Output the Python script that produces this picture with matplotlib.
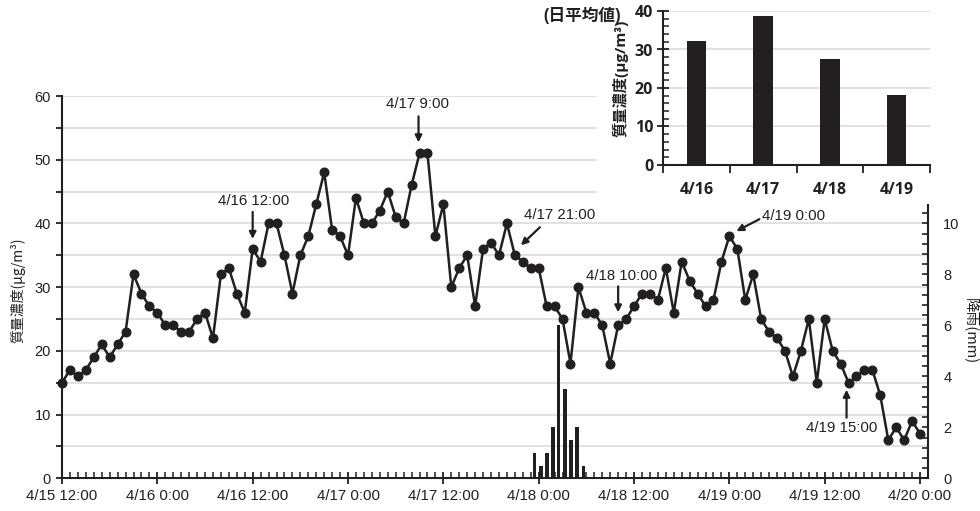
import matplotlib
matplotlib.use('Agg')
import matplotlib.pyplot as plt
import matplotlib.ticker as mticker
import matplotlib.transforms as mtransforms
from matplotlib.patches import Rectangle
import numpy as np

# ---------------- data ----------------
# Hourly mass concentration (μg/m³) from 4/15 12:00 to 4/20 0:00
conc = [15, 17, 16, 17, 19, 21, 19, 21, 23, 32, 29, 27, 26,
        24, 24, 23, 23, 25, 26, 22, 32, 33, 29, 26, 36,
        34, 40, 40, 35, 29, 35, 38, 43, 48, 39, 38, 35,
        44, 40, 40, 42, 45, 41, 40, 46, 51, 51, 38, 43,
        30, 33, 35, 27, 36, 37, 35, 40, 35, 34, 33, 33,
        27, 27, 25, 18, 30, 26, 26, 24, 18, 24, 25, 27,
        29, 29, 28, 33, 26, 34, 31, 29, 27, 28, 34, 38,
        36, 28, 32, 25, 23, 22, 20, 16, 20, 25, 15, 25,
        20, 18, 15, 16, 17, 17, 13, 6, 8, 6, 9, 7]
hours = list(range(len(conc)))  # hours since 4/15 12:00

# Rainfall (mm) — times in hours since 4/15 12:00
rain_hours = [59.5, 60.3, 61.05, 61.8, 62.5, 63.3, 64.05, 64.8, 65.6]
rain_mm = [1.0, 0.5, 1.0, 2.0, 6.0, 3.5, 1.5, 2.0, 0.5]

xtick_hours = [0, 12, 24, 36, 48, 60, 72, 84, 96, 108]
xtick_labels = ["4/15 12:00", "4/16 0:00", "4/16 12:00", "4/17 0:00", "4/17 12:00",
                "4/18 0:00", "4/18 12:00", "4/19 0:00", "4/19 12:00", "4/20 0:00"]

# Daily means (inset)
daily_days = ["4/16", "4/17", "4/18", "4/19"]
daily_mean = [32.3, 38.7, 27.5, 18.2]

# Annotated times (label, hour index)
annot_labels = ["4/16 12:00", "4/17 9:00", "4/17 21:00", "4/18 10:00", "4/19 0:00", "4/19 15:00"]
annot_hours = [24, 45, 57, 70, 84, 99]

# ---------------- style ----------------
INK = '#231f20'
GRID = '#d9d9d9'
plt.rcParams['font.family'] = ['Liberation Sans', 'Noto Sans CJK JP', 'DejaVu Sans']
CJK = ['Noto Sans CJK JP', 'DejaVu Sans']
BOLD = ['Open Sans', 'Noto Sans CJK JP', 'DejaVu Sans']

W, H = 980, 511
fig = plt.figure(figsize=(W / 100, H / 100), dpi=100)

ax = fig.add_axes([62 / W, 1 - 478.3 / H, 866 / W, 382.3 / H])
ax.plot(hours, conc, color=INK, lw=1.8, marker='o', ms=6.2, zorder=3, clip_on=False)
ax.set_xlim(0, 109)
ax.set_ylim(0, 60)
ax.set_xticks(xtick_hours)
ax.set_xticklabels(xtick_labels)
ax.xaxis.set_minor_locator(mticker.MultipleLocator(1))
ax.yaxis.set_major_locator(mticker.MultipleLocator(10))
ax.yaxis.set_minor_locator(mticker.MultipleLocator(5))
ax.grid(axis='y', which='both', color=GRID, lw=1.1, zorder=0)
ax.set_axisbelow(True)
for s in ['top', 'right']:
    ax.spines[s].set_visible(False)
for s in ['left', 'bottom']:
    ax.spines[s].set_linewidth(1.5)
    ax.spines[s].set_color(INK)
ax.tick_params(axis='y', which='both', direction='out', length=4, width=1.3, color=INK,
               labelsize=10.5, pad=4, labelcolor=INK)
ax.tick_params(axis='x', which='major', direction='inout', length=9, width=1.3, color=INK,
               labelsize=10.8, pad=3, labelcolor=INK)
ax.tick_params(axis='x', which='minor', direction='in', length=4, width=1.1, color=INK)

# rainfall on secondary axis
ax2 = ax.twinx()
ax2.bar(rain_hours, rain_mm, width=0.42, color=INK, zorder=2)
ax2.set_ylim(0, 15)
ax2.set_yticks(np.arange(0, 11, 2))
ax2.yaxis.set_minor_locator(mticker.FixedLocator(np.arange(0, 10.85, 0.4)))
for s in ['top', 'left', 'bottom']:
    ax2.spines[s].set_visible(False)
ax2.spines['right'].set_linewidth(1.5)
ax2.spines['right'].set_color(INK)
ax2.tick_params(axis='y', which='both', direction='in', length=4, width=1.2, color=INK,
                labelsize=10.5, pad=11, labelcolor=INK)

# axis labels
fig.text(18 / W, 1 - 290 / H, '質量濃度(μg/m³)', rotation=90, ha='center', va='center',
         fontsize=10, family=CJK, color=INK)
fig.text(970 / W, 1 - 331 / H, '降雨(mm)', rotation=-90, ha='center', va='center',
         fontsize=10.5, family=CJK, color=INK)

# annotations: (text offset px, arrow start px, arrow tip px, text ha)
annot_layout = [
    ((1, 48), (0, 37), (0, 10), 'center'),
    ((-2, 49), (-1, 37), (-1, 11), 'center'),
    ((45, 40), (25, 28), (6, 10), 'center'),
    ((3, 49), (0, 39), (0, 13), 'center'),
    ((33, 20), (30, 17), (7, 5), 'left'),
    ((-7, -45), (-2, -35), (-2, -7), 'center'),
]


def off(dx, dy):
    return ax.transData + mtransforms.ScaledTranslation(dx / 100, dy / 100, fig.dpi_scale_trans)


for lab, h, (tpos, astart, atip, ha) in zip(annot_labels, annot_hours, annot_layout):
    v = conc[h]
    ax.annotate(lab, xy=(h, v), xycoords=off(*tpos), ha=ha, va='center',
                fontsize=10.8, color=INK, zorder=6)
    ax.annotate('', xy=(h, v), xycoords=off(*atip), xytext=(h, v), textcoords=off(*astart),
                arrowprops=dict(arrowstyle='-|>', color=INK, lw=1.6, mutation_scale=10,
                                shrinkA=0, shrinkB=0), zorder=6)

# white background behind inset
fig.add_artist(Rectangle((597 / W, 1 - 204 / H), 383 / W, 204 / H, transform=fig.transFigure,
                         facecolor='white', edgecolor='none', zorder=5))

# ---------------- inset: daily means ----------------
axi = fig.add_axes([663 / W, 1 - 165 / H, 267 / W, 154 / H])
axi.set_zorder(10)
xi = np.arange(len(daily_days))
axi.bar(xi, daily_mean, width=0.29, color=INK, zorder=3)
axi.set_xlim(-0.5, len(daily_days) - 0.5)
axi.set_ylim(0, 40)
axi.set_xticks(np.arange(-0.5, len(daily_days), 1.0))
axi.set_xticklabels([])
axi.set_xticks(xi, minor=True)
axi.set_xticklabels(daily_days, minor=True)
axi.yaxis.set_major_locator(mticker.MultipleLocator(10))
axi.yaxis.set_minor_locator(mticker.MultipleLocator(2))
axi.grid(axis='y', which='major', color=GRID, lw=1.1, zorder=0)
axi.set_axisbelow(True)
for s in ['top', 'right']:
    axi.spines[s].set_visible(False)
for s in ['left', 'bottom']:
    axi.spines[s].set_linewidth(1.5)
    axi.spines[s].set_color(INK)
axi.tick_params(axis='x', which='major', direction='out', length=6, width=1.3, color=INK)
axi.tick_params(axis='x', which='minor', length=0, pad=12, labelsize=11.5, labelcolor=INK)
axi.tick_params(axis='y', which='major', direction='inout', length=8, width=1.3, color=INK,
                labelsize=11.5, pad=3, labelcolor=INK)
axi.tick_params(axis='y', which='minor', direction='in', length=4, width=1.1, color=INK)
for t in axi.get_xticklabels(minor=True) + axi.get_yticklabels():
    t.set_fontweight('bold')
    t.set_family(BOLD)

fig.text(620 / W, 1 - 78 / H, '質量濃度(μg/m³)', rotation=90, ha='center', va='center',
         fontsize=11, fontweight='bold', family=BOLD, color=INK, zorder=11)
fig.text(543 / W, 1 - 16 / H, '(日平均値)', ha='left', va='center',
         fontsize=12, fontweight='bold', family=BOLD, color=INK, zorder=11)

fig.savefig('out.png', dpi=100)
